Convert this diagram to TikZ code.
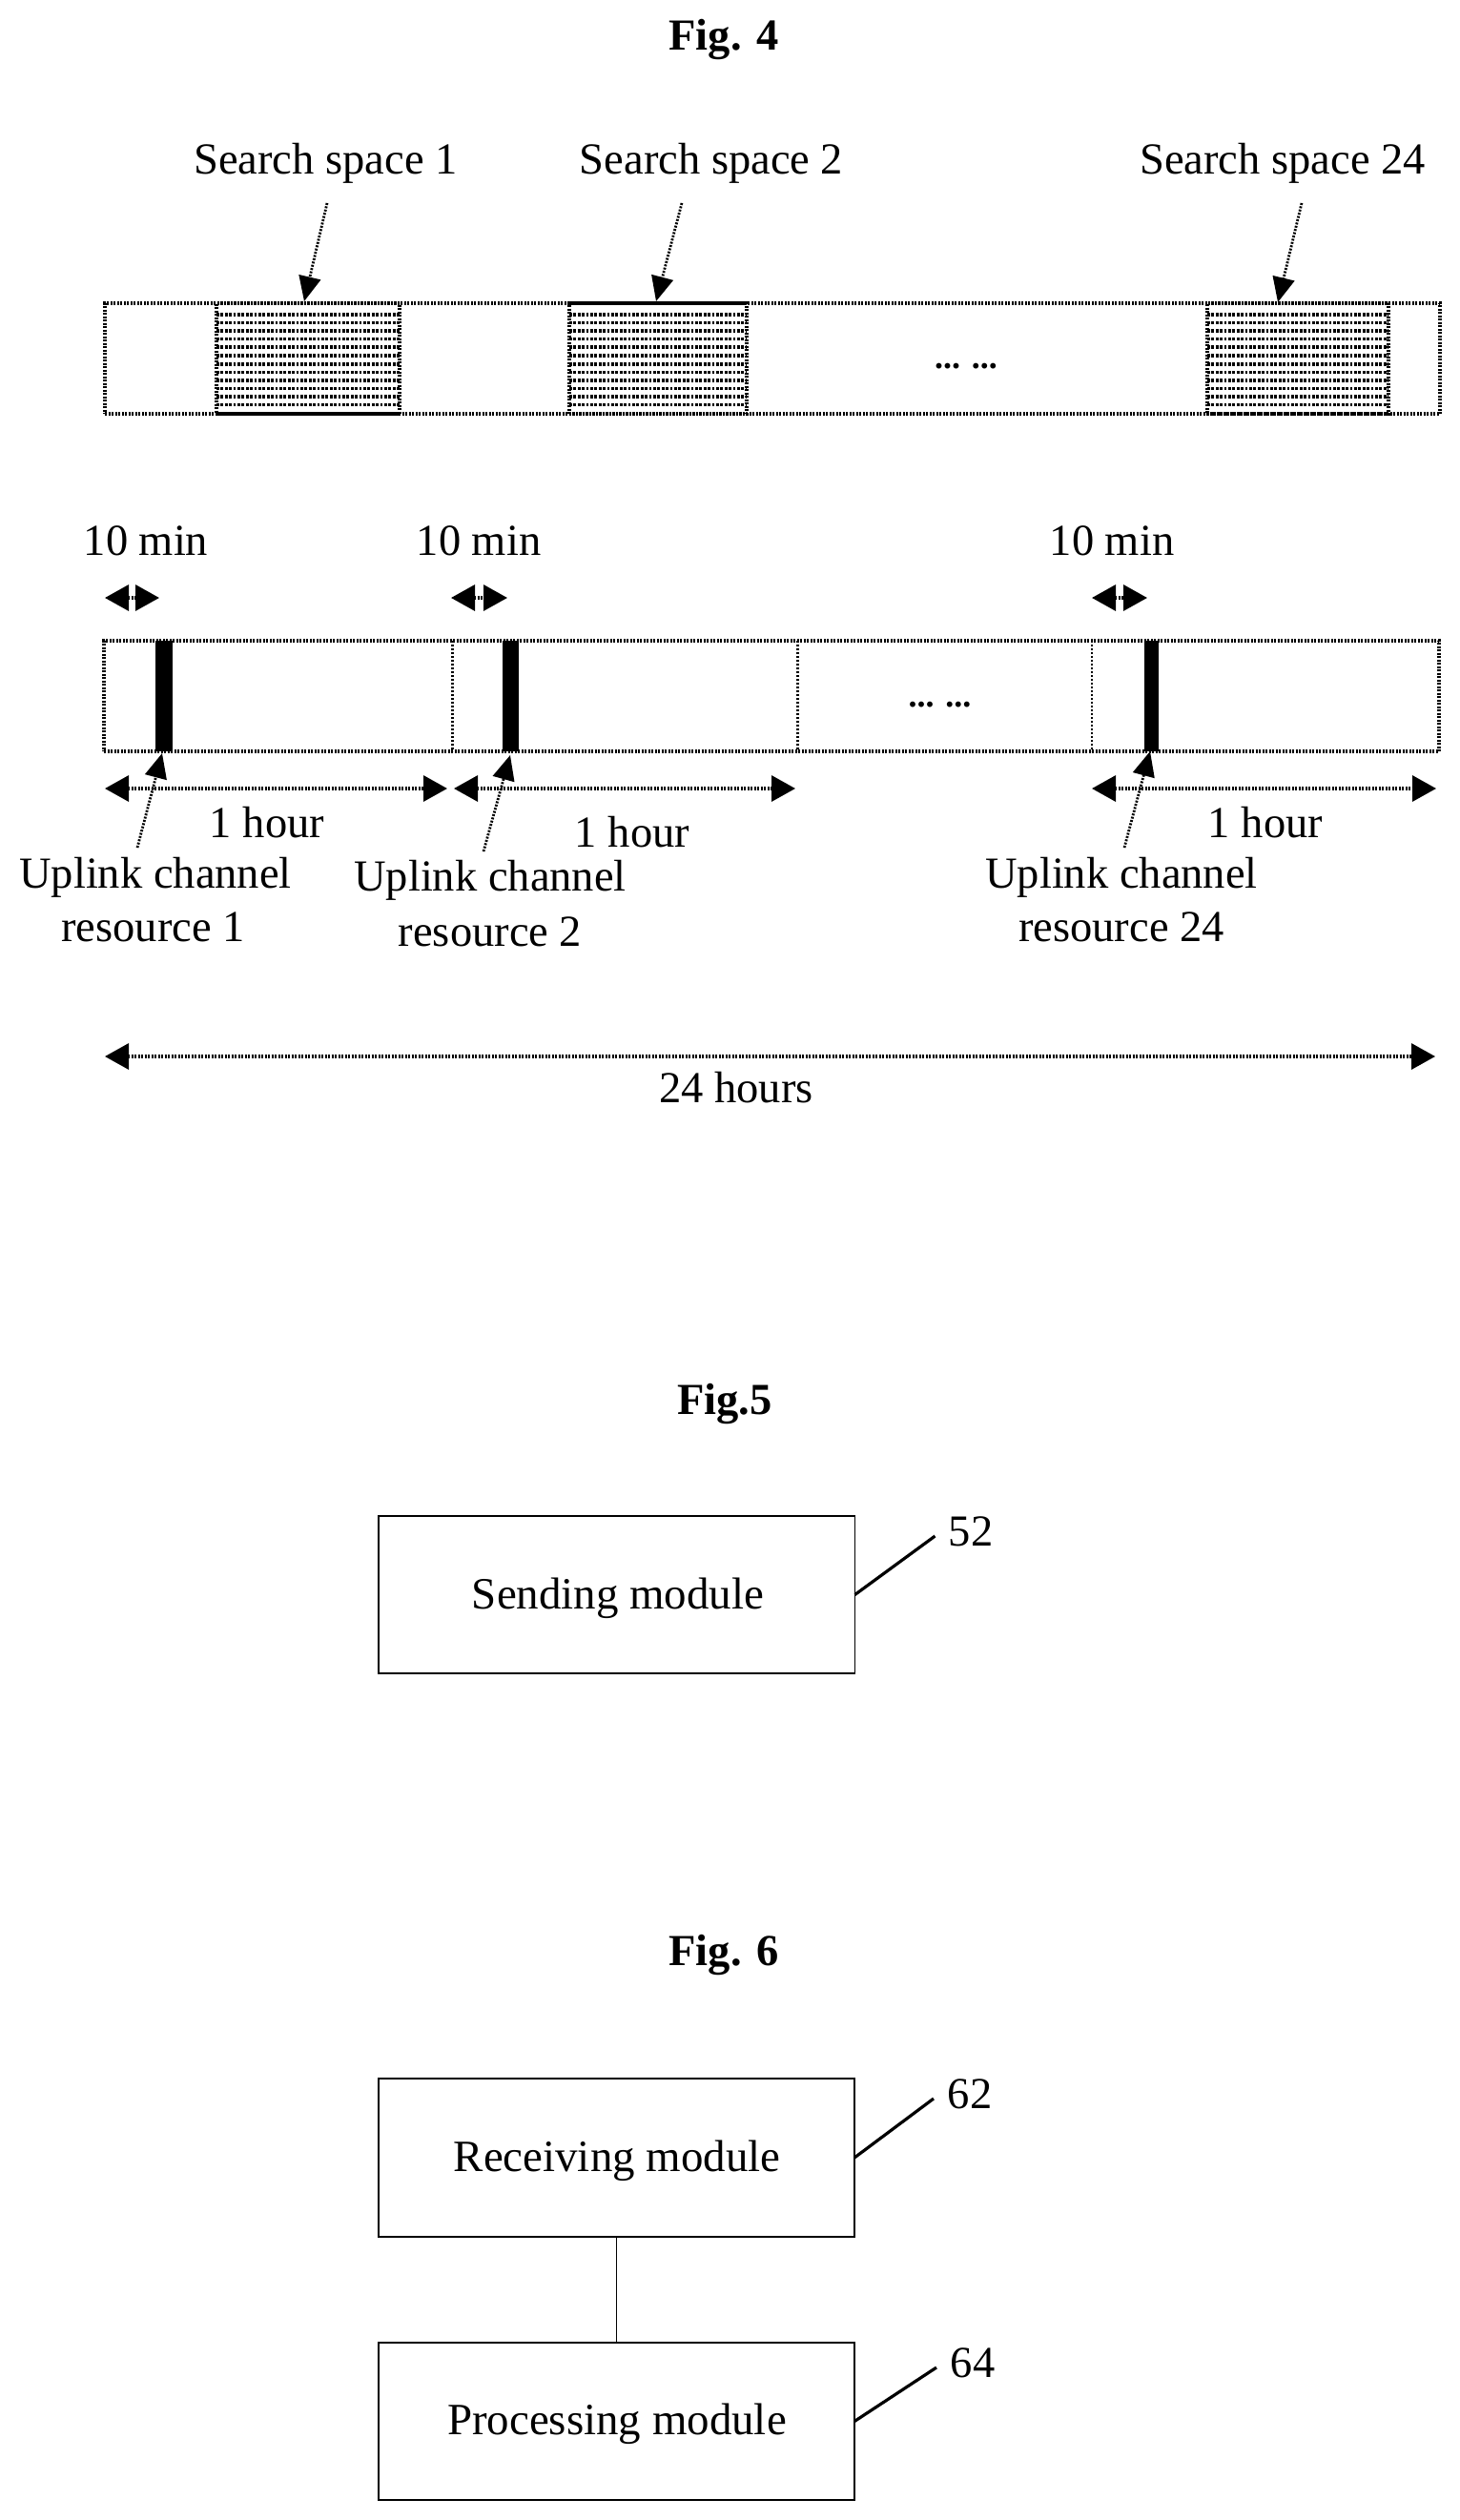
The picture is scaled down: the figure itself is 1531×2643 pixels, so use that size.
\documentclass[tikz,border=0pt]{standalone}
\usepackage{fontspec}
\setmainfont{Liberation Serif}
\usetikzlibrary{arrows.meta}
\tikzset{
  lbl/.style={anchor=base,inner sep=0pt,font=\fontsize{46.5}{56}\selectfont},
  modlbl/.style={anchor=base,inner sep=0pt,font=\fontsize{46.9}{56}\selectfont},
  ttl/.style={anchor=base,inner sep=0pt,font=\fontsize{46.5}{56}\selectfont\bfseries},
  dotsl/.style={anchor=base,inner sep=0pt,font=\fontsize{36}{42}\selectfont\bfseries},
  rough/.style={draw=black,line width=3.2pt,dash pattern=on 2pt off 1.5pt},
  barbox/.style={rough,inner sep=0pt,outer sep=0pt,anchor=north west},
  stripe/.style={draw=black,line width=3.4pt,dash pattern=on 2.8pt off 1.6pt},
  divider/.style={draw=black,line width=2.4pt,dash pattern=on 2pt off 2pt},
  dimarrow/.style={rough,{Triangle[length=25pt,width=27pt]}-{Triangle[length=25pt,width=27pt]}},
  pointer/.style={rough,line width=2.8pt,-{Triangle[length=26pt,width=23pt]}},
  module/.style={draw=black,line width=1.6pt,inner sep=0pt,outer sep=0pt,anchor=north west},
  lead/.style={draw=black,line width=3.2pt},
  wire/.style={draw=black,line width=1.8pt},
}
\begin{document}
\begin{tikzpicture}[x=1pt,y=-1pt]
\useasboundingbox (0,0) rectangle (1531,2643);
% ---------- Fig. 4 ----------
\node[ttl] (t4) at (759,52) {Fig. 4};
% top bar
\node[barbox,minimum width=1400pt,minimum height=116pt] (top) at (110,318) {};
\foreach \xa/\xb/\nm in {227/419/a,597/783/b,1266/1456/c}{
  \foreach \yy in {330,338.5,347,355.5,364,373,382,390.5,399,407.5,416,424.5}{
    \draw[stripe] (\xa,\yy) -- (\xb,\yy);
  }
  \node[barbox,minimum width=\xb pt-\xa pt,minimum height=116pt] (ss\nm) at (\xa,318) {};
}
\node[lbl] (l1) at (341.5,182) {Search space 1};
\node[lbl] (l2) at (746,182) {Search space 2};
\node[lbl] (l3) at (1345,182) {Search space 24};
\coordinate (p1) at (343,213); \coordinate (q1) at (319,316);
\coordinate (p2) at (715,213); \coordinate (q2) at (688,316);
\coordinate (p3) at (1365,213); \coordinate (q3) at (1340,317);
\draw[pointer] (p1) -- (q1);
\draw[pointer] (p2) -- (q2);
\draw[pointer] (p3) -- (q3);
\node[dotsl] (d1) at (1013,386) {... ...};
% bottom bar
\node[barbox,minimum width=1400pt,minimum height=116pt] (bot) at (109,672) {};
\coordinate (g1) at (474.5,672); \coordinate (g2) at (474.5,788);
\coordinate (g3) at (836.5,672); \coordinate (g4) at (836.5,788);
\coordinate (g5) at (1145,672); \coordinate (g6) at (1145,788);
\draw[divider] (g1) -- (g2);
\draw[divider] (g3) -- (g4);
\draw[divider] (g5) -- (g6);
\node[barbox,fill=black,draw=none,minimum width=18pt,minimum height=116pt] (ul1) at (162.5,672) {};
\node[barbox,fill=black,draw=none,minimum width=17pt,minimum height=116pt] (ul2) at (526.5,672) {};
\node[barbox,fill=black,draw=none,minimum width=15pt,minimum height=116pt] (ul3) at (1199.5,672) {};
\node[dotsl] (d2) at (985.5,741) {... ...};
% 10 min
\node[lbl] (m1) at (153,582) {10 min};
\node[lbl] (m2) at (502,582) {10 min};
\node[lbl] (m3) at (1166,582) {10 min};
\coordinate (a1) at (110,627); \coordinate (b1) at (167,627);
\coordinate (a2) at (473,627); \coordinate (b2) at (532,627);
\coordinate (a3) at (1145,627); \coordinate (b3) at (1203,627);
\draw[dimarrow] (a1) -- (b1);
\draw[dimarrow] (a2) -- (b2);
\draw[dimarrow] (a3) -- (b3);
% 1 hour
\coordinate (c1) at (110,827); \coordinate (e1) at (469,827);
\coordinate (c2) at (476,827); \coordinate (e2) at (834,827);
\coordinate (c3) at (1145,827); \coordinate (e3) at (1506,827);
\draw[dimarrow] (c1) -- (e1);
\draw[dimarrow] (c2) -- (e2);
\draw[dimarrow] (c3) -- (e3);
\node[lbl] (h1) at (280,878) {1 hour};
\node[lbl] (h2) at (663,888) {1 hour};
\node[lbl] (h3) at (1327,878) {1 hour};
% resource pointers
\coordinate (r1) at (144,889); \coordinate (s1) at (170,790);
\coordinate (r2) at (507,893); \coordinate (s2) at (535,792);
\coordinate (r3) at (1179,889); \coordinate (s3) at (1206,788);
\draw[pointer] (r1) -- (s1);
\draw[pointer] (r2) -- (s2);
\draw[pointer] (r3) -- (s3);
\node[lbl] (u1) at (163,931) {Uplink channel};
\node[lbl] (v1) at (160.5,987) {resource 1};
\node[lbl] (u2) at (514,934) {Uplink channel};
\node[lbl] (v2) at (514,992) {resource 2};
\node[lbl] (u3) at (1176,931) {Uplink channel};
\node[lbl] (v3) at (1176,987) {resource 24};
% 24 hours
\coordinate (f1) at (110,1108); \coordinate (f2) at (1505,1108);
\draw[dimarrow] (f1) -- (f2);
\node[lbl] (h24) at (772,1156) {24 hours};
% ---------- Fig.5 ----------
\node[ttl] (t5) at (760,1483) {Fig.5};
\node[module,minimum width=499.5pt,minimum height=165pt] (send) at (397,1590) {};
\node[modlbl] (sendt) at (648,1687) {Sending module};
\coordinate (n52) at (980.5,1611);
\draw[lead] (send.east) -- (n52);
\node[lbl] (l52) at (1018,1621) {52};
% ---------- Fig. 6 ----------
\node[ttl] (t6) at (759,2061) {Fig. 6};
\node[module,minimum width=499pt,minimum height=166pt] (recv) at (397,2180) {};
\node[modlbl] (recvt) at (647,2277) {Receiving module};
\node[module,minimum width=499pt,minimum height=165pt] (proc) at (397,2457) {};
\node[modlbl] (proct) at (647,2553) {Processing module};
\draw[wire] (recv.south) -- (proc.north);
\coordinate (n62) at (979,2201);
\coordinate (n64) at (982,2483);
\draw[lead] (recv.east) -- (n62);
\draw[lead] (proc.east) -- (n64);
\node[lbl] (l62) at (1017,2211) {62};
\node[lbl] (l64) at (1020,2493) {64};
\end{tikzpicture}
\end{document}
